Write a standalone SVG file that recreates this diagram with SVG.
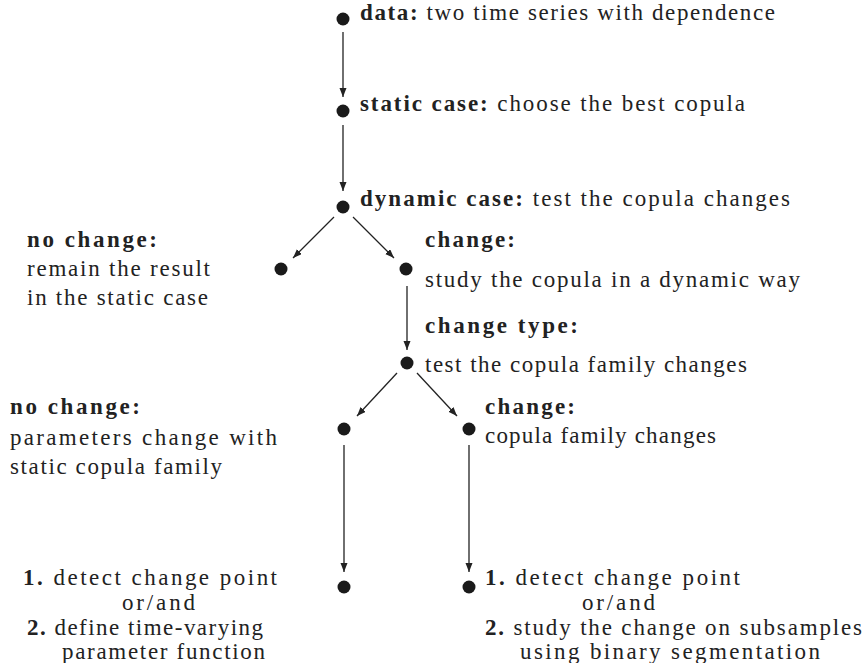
<svg xmlns="http://www.w3.org/2000/svg" width="867" height="663" viewBox="0 0 867 663">
<defs>
<style>
text{font-family:'Liberation Serif','DejaVu Serif','Noto Serif','FreeSerif','Times New Roman',serif;font-size:23px;fill:#222;}
.b{font-weight:bold;}
.dot{fill:#1a1a1a;}
.c{stroke:#222;stroke-width:1.3;fill:none;marker-end:url(#ah);}
</style>
<marker id="ah" markerUnits="userSpaceOnUse" markerWidth="10" markerHeight="8" refX="9" refY="3.5" orient="auto">
<path d="M0,0 L9,3.5 L0,7 z" fill="#222"/>
</marker>
</defs>
<rect width="867" height="663" fill="#fff"/>
<g id="connectors">
<line class="c" x1="343" y1="32" x2="343" y2="97"/>
<line class="c" x1="343" y1="125" x2="343" y2="191"/>
<line class="c" x1="334" y1="217" x2="293" y2="258"/>
<line class="c" x1="353" y1="217" x2="394" y2="258"/>
<line class="c" x1="407" y1="286" x2="407" y2="350"/>
<line class="c" x1="397" y1="373" x2="357" y2="416"/>
<line class="c" x1="417" y1="373" x2="457" y2="416"/>
<line class="c" x1="344" y1="445" x2="344" y2="572"/>
<line class="c" x1="469" y1="445" x2="469" y2="572"/>
</g>
<g id="n-data">
<circle class="dot" cx="343" cy="19" r="6.5"/>
<text x="360" y="20" textLength="415"><tspan class="b">data:</tspan> two time series with dependence</text>
</g>
<g id="n-static">
<circle class="dot" cx="343" cy="111" r="6.5"/>
<text x="360" y="111" textLength="385"><tspan class="b">static case:</tspan> choose the best copula</text>
</g>
<g id="n-dynamic">
<circle class="dot" cx="343" cy="207" r="6.5"/>
<text x="360" y="206" textLength="430"><tspan class="b">dynamic case:</tspan> test the copula changes</text>
</g>
<g id="n-nochange1">
<circle class="dot" cx="281" cy="269" r="6.5"/>
<text x="27" y="247" class="b" textLength="130">no change:</text>
<text x="27" y="276" textLength="183">remain the result</text>
<text x="27" y="305" textLength="181">in the static case</text>
</g>
<g id="n-change1">
<circle class="dot" cx="406" cy="269" r="6.5"/>
<text x="425" y="247" class="b" textLength="90">change:</text>
<text x="425" y="287" textLength="375">study the copula in a dynamic way</text>
</g>
<g id="n-changetype">
<circle class="dot" cx="407" cy="363" r="6.5"/>
<text x="425" y="333" class="b" textLength="153">change type:</text>
<text x="425" y="372" textLength="322">test the copula family changes</text>
</g>
<g id="n-nochange2">
<circle class="dot" cx="344" cy="429" r="6.5"/>
<text x="10" y="414" class="b" textLength="130">no change:</text>
<text x="10" y="445" textLength="267">parameters change with</text>
<text x="10" y="474" textLength="212">static copula family</text>
</g>
<g id="n-change2">
<circle class="dot" cx="469" cy="429" r="6.5"/>
<text x="485" y="414" class="b" textLength="90">change:</text>
<text x="485" y="443" textLength="231">copula family changes</text>
</g>
<g id="n-left-end">
<circle class="dot" cx="344" cy="587" r="6.5"/>
<text x="23" y="585" textLength="254"><tspan class="b">1.</tspan> detect change point</text>
<text x="122" y="610" textLength="73">or/and</text>
<text x="27" y="635" textLength="236"><tspan class="b">2.</tspan> define time-varying</text>
<text x="62" y="659" textLength="203">parameter function</text>
</g>
<g id="n-right-end">
<circle class="dot" cx="469" cy="587" r="6.5"/>
<text x="485" y="585" textLength="255"><tspan class="b">1.</tspan> detect change point</text>
<text x="582" y="610" textLength="73">or/and</text>
<text x="485" y="635" textLength="377"><tspan class="b">2.</tspan> study the change on subsamples</text>
<text x="520" y="659" textLength="300">using binary segmentation</text>
</g>
</svg>
